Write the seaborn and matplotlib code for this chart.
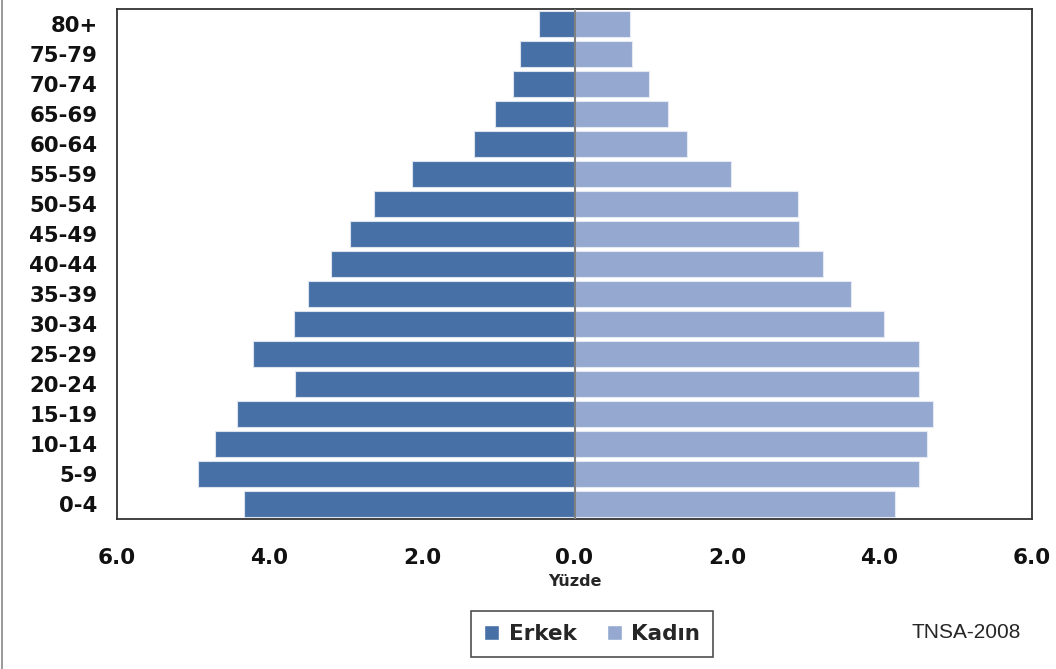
import matplotlib
matplotlib.use("Agg")
import matplotlib.pyplot as plt
from matplotlib.ticker import FuncFormatter, FixedLocator
from matplotlib.patches import Patch
import seaborn as sns
import pandas as pd

age_groups = ["80+", "75-79", "70-74", "65-69", "60-64", "55-59", "50-54", "45-49",
              "40-44", "35-39", "30-34", "25-29", "20-24", "15-19", "10-14", "5-9", "0-4"]
erkek = [0.46, 0.72, 0.81, 1.04, 1.32, 2.13, 2.63, 2.95, 3.19, 3.49, 3.68, 4.21,
         3.66, 4.42, 4.72, 4.94, 4.34]
kadin = [0.73, 0.75, 0.98, 1.23, 1.47, 2.05, 2.93, 2.95, 3.26, 3.62, 4.06, 4.52,
         4.52, 4.70, 4.62, 4.52, 4.20]
x_ticks = [-6, -4, -2, 0, 2, 4, 6]

male_color = "#4771A6"
female_color = "#94A8D0"

sns.set_style("white")
plt.rcParams['font.family'] = ['DejaVu Sans']

df_m = pd.DataFrame({"age": age_groups, "value": [-v for v in erkek]})
df_f = pd.DataFrame({"age": age_groups, "value": kadin})

fig = plt.figure(figsize=(10.56, 6.69), dpi=100)
ax = fig.add_axes([117/1056, 1 - 519/669, (1032 - 117)/1056, (519 - 9)/669])

sns.barplot(data=df_m, x="value", y="age", order=age_groups, orient="h",
            color=male_color, width=0.87, edgecolor="#DCE3EE", linewidth=0.8,
            saturation=1, ax=ax)
sns.barplot(data=df_f, x="value", y="age", order=age_groups, orient="h",
            color=female_color, width=0.87, edgecolor="#E4E9F3", linewidth=0.8,
            saturation=1, ax=ax)

ax.set_xlim(-6, 6)
ax.set_ylim(len(age_groups) - 0.5, -0.5)
ax.xaxis.set_major_locator(FixedLocator(x_ticks))
ax.xaxis.set_major_formatter(FuncFormatter(lambda v, p: f"{abs(v):.1f}"))
ax.axvline(0, color="#808080", linewidth=1.5, zorder=5)

ax.tick_params(axis="x", length=0, pad=21, labelsize=15.5)
ax.tick_params(axis="y", length=0, pad=14, labelsize=15.3)
for lab in ax.get_xticklabels() + ax.get_yticklabels():
    lab.set_fontweight("bold")
    lab.set_color("#111111")

ax.set_ylabel("")
ax.set_xlabel("Yüzde", fontsize=11.5, fontweight="bold", labelpad=4)

for s in ax.spines.values():
    s.set_visible(True)
    s.set_color("#333333")
    s.set_linewidth(1.3)

handles = [Patch(facecolor=male_color, label="Erkek"),
           Patch(facecolor=female_color, label="Kadın")]
leg = fig.legend(handles=handles, loc="center", bbox_to_anchor=(592/1056, 1 - 634/669),
                 ncol=2, frameon=True, fancybox=False, edgecolor="#222222",
                 prop={"weight": "bold", "size": 15.5}, handlelength=0.7, handleheight=0.7,
                 handletextpad=0.45, columnspacing=1.4, borderpad=0.6, borderaxespad=0)
leg.get_frame().set_linewidth(1.2)

fig.text(966/1056, 1 - 632/669, "TNSA-2008", ha="center", va="center", fontsize=15,
         family="Liberation Sans")

fig.add_artist(plt.Line2D([2/1056, 2/1056], [0, 1], color="#888888", linewidth=1.2))

fig.savefig("out.png", dpi=100)
